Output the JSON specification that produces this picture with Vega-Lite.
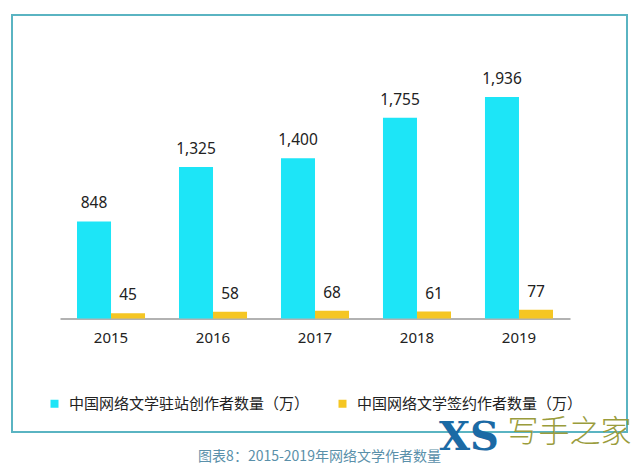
{
  "$schema": "https://vega.github.io/schema/vega-lite/v6.json",
  "width": 615,
  "height": 417,
  "autosize": {"type": "none"},
  "padding": {"left": 12, "top": 15, "right": 13, "bottom": 36},
  "background": "white",
  "title": {
    "text": "XS",
    "orient": "top",
    "anchor": "start",
    "frame": "group",
    "offset": 0,
    "baseline": "alphabetic",
    "font": "DejaVu Serif",
    "fontSize": 40,
    "fontWeight": "bold",
    "color": "#1b6aa5",
    "dx": 427,
    "dy": 475
  },
  "data": {
    "values": [
      {"year": "2015", "series": "中国网络文学驻站创作者数量（万）", "value": 848},
      {"year": "2016", "series": "中国网络文学驻站创作者数量（万）", "value": 1325},
      {"year": "2017", "series": "中国网络文学驻站创作者数量（万）", "value": 1400},
      {"year": "2018", "series": "中国网络文学驻站创作者数量（万）", "value": 1755},
      {"year": "2019", "series": "中国网络文学驻站创作者数量（万）", "value": 1936},
      {"year": "2015", "series": "中国网络文学签约作者数量（万）", "value": 45},
      {"year": "2016", "series": "中国网络文学签约作者数量（万）", "value": 58},
      {"year": "2017", "series": "中国网络文学签约作者数量（万）", "value": 68},
      {"year": "2018", "series": "中国网络文学签约作者数量（万）", "value": 61},
      {"year": "2019", "series": "中国网络文学签约作者数量（万）", "value": 77}
    ]
  },
  "encoding": {
    "x": {
      "field": "year",
      "type": "nominal",
      "scale": {"range": [48, 558], "paddingInner": 0.333, "paddingOuter": 0.1667},
      "axis": {
        "title": "图表8：2015-2019年网络文学作者数量",
        "titleFont": "Noto Sans CJK SC",
        "titleFontSize": 14,
        "titleFontWeight": "normal",
        "titleColor": "#5a90aa",
        "titleX": 307,
        "titleY": 141.5,
        "titleAlign": "center",
        "titleBaseline": "alphabetic",
        "offset": -113.5,
        "labelAngle": 0,
        "labelFont": "Noto Sans",
        "labelFontSize": 15,
        "labelColor": "#222222",
        "labelPadding": 12,
        "ticks": false,
        "grid": false,
        "domainColor": "#999999",
        "domainWidth": 1.5
      }
    },
    "xOffset": {
      "field": "series",
      "type": "nominal",
      "sort": ["中国网络文学驻站创作者数量（万）", "中国网络文学签约作者数量（万）"],
      "scale": {"paddingInner": 0, "paddingOuter": 0}
    },
    "y": {
      "field": "value",
      "type": "quantitative",
      "scale": {"domain": [0, 1936], "range": [303.5, 82], "nice": false, "zero": true},
      "axis": {
        "title": "写手之家",
        "titleAngle": 0,
        "titleX": 495,
        "titleY": 426,
        "titleAlign": "left",
        "titleBaseline": "alphabetic",
        "titleFont": "Noto Sans CJK SC",
        "titleFontSize": 31,
        "titleFontWeight": 300,
        "titleColor": "#9a9c3c",
        "labels": false,
        "ticks": false,
        "domain": false,
        "grid": false
      }
    }
  },
  "layer": [
    {
      "mark": {"type": "bar"},
      "encoding": {
        "color": {
          "field": "series",
          "type": "nominal",
          "scale": {
            "domain": ["中国网络文学驻站创作者数量（万）", "中国网络文学签约作者数量（万）"],
            "range": ["#1de5f7", "#f5c623"]
          },
          "legend": {
            "orient": "none",
            "legendX": 35,
            "legendY": 381,
            "direction": "horizontal",
            "title": null,
            "padding": 0,
            "symbolType": "square",
            "symbolSize": 64,
            "symbolStrokeWidth": 0,
            "labelOffset": 7,
            "labelFont": "Noto Sans CJK SC",
            "labelFontSize": 15,
            "labelColor": "#222222",
            "labelLimit": 400,
            "columnPadding": 25
          }
        }
      }
    },
    {
      "mark": {"type": "text", "baseline": "alphabetic", "dy": -13, "font": "Noto Sans", "fontSize": 15.5, "color": "#222222"},
      "encoding": {
        "text": {"field": "value", "type": "quantitative", "format": ","}
      }
    }
  ],
  "config": {
    "view": {"stroke": "#5ab4c2", "strokeWidth": 2}
  }
}
